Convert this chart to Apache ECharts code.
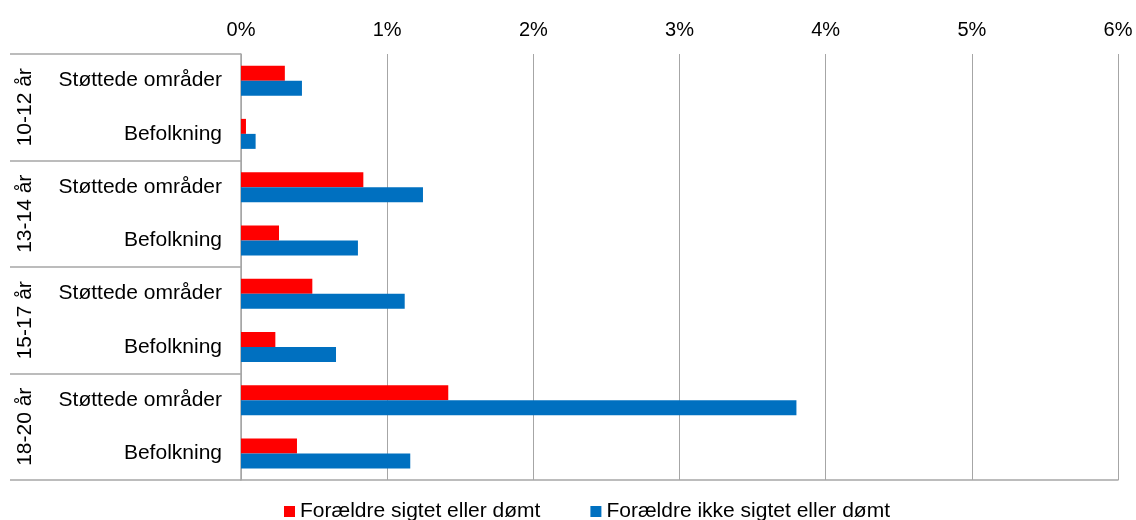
<!DOCTYPE html>
<html>
<head>
<meta charset="utf-8">
<script src="https://cdn.jsdelivr.net/npm/echarts@6/dist/echarts.min.js"></script>
<style>
html,body{margin:0;padding:0;background:#fff;}
#chart{width:1136px;height:520px;}
</style>
</head>
<body>
<div id="chart"></div>
<script>
const categories = ['Støttede områder','Befolkning','Støttede områder','Befolkning','Støttede områder','Befolkning','Støttede områder','Befolkning'];
const groups = ['10-12 år','13-14 år','15-17 år','18-20 år'];
const seriesNames = ['Forældre sigtet eller dømt','Forældre ikke sigtet eller dømt'];
const parentsCharged = [0.30, 0.034, 0.837, 0.26, 0.488, 0.235, 1.418, 0.383];
const parentsNotCharged = [0.417, 0.10, 1.245, 0.80, 1.12, 0.65, 3.80, 1.158];

const FONT = 'Arial, "Liberation Sans", sans-serif';
const chart = echarts.init(document.getElementById('chart'), null, {renderer:'canvas'});
const gridLeft = 241, gridRight = 18, gridTop = 54, gridBottom = 40;
const lineColor = '#a6a6a6';

chart.setOption({
  animation: false,
  backgroundColor: '#ffffff',
  grid: {left: gridLeft, right: gridRight, top: gridTop, bottom: gridBottom, containLabel: false},
  legend: {
    data: seriesNames,
    left: 284, top: 501, padding: 0,
    icon: 'rect', itemWidth: 11, itemHeight: 11, itemGap: 50,
    textStyle: {fontFamily: FONT, fontSize: 21, color: '#000'}
  },
  xAxis: [{
    type: 'value', position: 'top', min: 0, max: 6, interval: 1,
    axisLine: {show: false}, axisTick: {show: false},
    axisLabel: {formatter: '{value}%', fontFamily: FONT, fontSize: 20, color: '#000', margin: 14},
    splitLine: {show: true, lineStyle: {color: lineColor, width: 1}}
  }, {
    type: 'value', position: 'bottom', min: 0, max: 6, interval: 1,
    axisLine: {show: true, lineStyle: {color: lineColor, width: 1.5}},
    axisTick: {show: false}, axisLabel: {show: false}, splitLine: {show: false}
  }],
  yAxis: [{
    type: 'category', data: categories, inverse: true,
    axisLine: {show: true, lineStyle: {color: lineColor, width: 1.5}},
    axisTick: {show: false},
    axisLabel: {fontFamily: FONT, fontSize: 21, color: '#000', margin: 19}
  }, {
    type: 'category', data: groups, inverse: true, position: 'left',
    axisLine: {show: false},
    axisTick: {show: true, alignWithLabel: false, length: 231, lineStyle: {color: lineColor, width: 1.5}},
    axisLabel: {fontFamily: FONT, fontSize: 21, color: '#000', rotate: 90, margin: 205}
  }],
  series: [{
    name: seriesNames[0], type: 'bar', data: parentsCharged,
    xAxisIndex: 0, yAxisIndex: 0,
    barWidth: 15, barGap: '0%',
    itemStyle: {color: '#ff0000'}
  }, {
    name: seriesNames[1], type: 'bar', data: parentsNotCharged,
    xAxisIndex: 0, yAxisIndex: 0,
    barWidth: 15, barGap: '0%',
    itemStyle: {color: '#0070c0'}
  }]
});
</script>
</body>
</html>
